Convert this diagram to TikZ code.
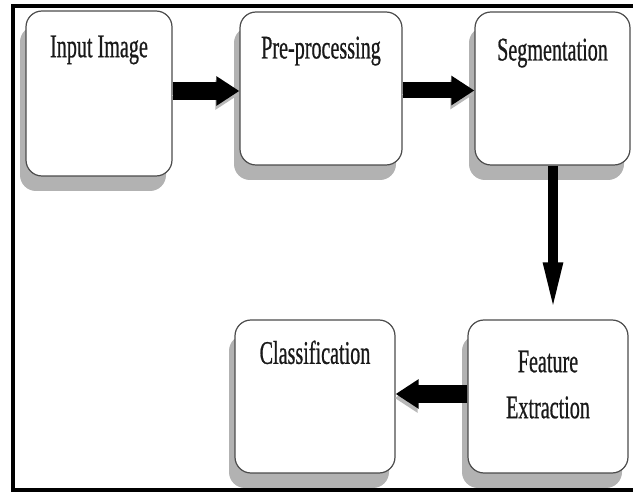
\documentclass[tikz,border=0pt]{standalone}
\usepackage{fontspec}
\newfontfamily\cond{Liberation Serif}[FakeStretch=0.61,FakeBold=0.6]
\usetikzlibrary{arrows.meta,shadows,calc}
\begin{document}
\begin{tikzpicture}[x=1pt,y=-1pt,
  box/.style={draw=black!70, line width=1.2pt, rounded corners=16pt, fill=white, inner sep=0pt,
     drop shadow={shadow xshift=-6pt, shadow yshift=-15pt, fill=black!30, opacity=1}},
  lbl/.style={font=\cond\fontsize{33}{46}\selectfont, anchor=north, inner sep=0pt, align=center, text=black!90},
  fat/.style={line width=18pt, draw=black, -{Triangle[length=23pt,width=28pt]},
     preaction={draw=black!28, transform canvas={shift={(-1pt,-4pt)}}}},
  slim/.style={line width=10pt, draw=black, -{Triangle[length=53pt,width=17pt]}},
]
\useasboundingbox (0,0) rectangle (633,494);
\fill[white] (0,0) rectangle (633,494);
% frame
\draw[line width=4.5pt] (633,6) -- (13,6) -- (13,490) -- (633,490);

% boxes
\node[box, minimum width=146pt, minimum height=165pt] (in) at (99,93.5) {};
\node[box, minimum width=162pt, minimum height=153pt] (pre) at (321,88.5) {};
\node[box, minimum width=155pt, minimum height=153pt] (seg) at (552.5,88.5) {};
\node[box, minimum width=160pt, minimum height=153pt] (feat) at (548,396.5) {};
\node[box, minimum width=160pt, minimum height=153pt] (cls) at (315,396.5) {};

% labels
\node[lbl] (tin) at ([yshift=-25pt]in.north) {Input Image};
\node[lbl] (tpre) at ([yshift=-25pt]pre.north) {Pre-processing};
\node[lbl] (tseg) at ([yshift=-27pt]seg.north) {Segmentation};
\node[lbl] (tfeat) at ([yshift=-31pt]feat.north) {Feature\\Extraction};
\node[lbl] (tcls) at ([yshift=-21pt]cls.north) {Classification};

% connectors
\coordinate (a1) at ([yshift=-2.5pt]pre.west);
\draw[fat] (in.east |- a1) -- (a1);
\coordinate (a2) at ([yshift=-2pt]seg.west);
\draw[fat, line width=16pt] (pre.east |- a2) -- (a2);
\coordinate (a3) at ([yshift=2.5pt]feat.west);
\draw[fat] (a3) -- (cls.east |- a3);
\coordinate (a4) at ([xshift=0.5pt]seg.south);
\draw[slim] (a4) -- ([yshift=4pt]a4 |- feat.north);
\end{tikzpicture}
\end{document}
